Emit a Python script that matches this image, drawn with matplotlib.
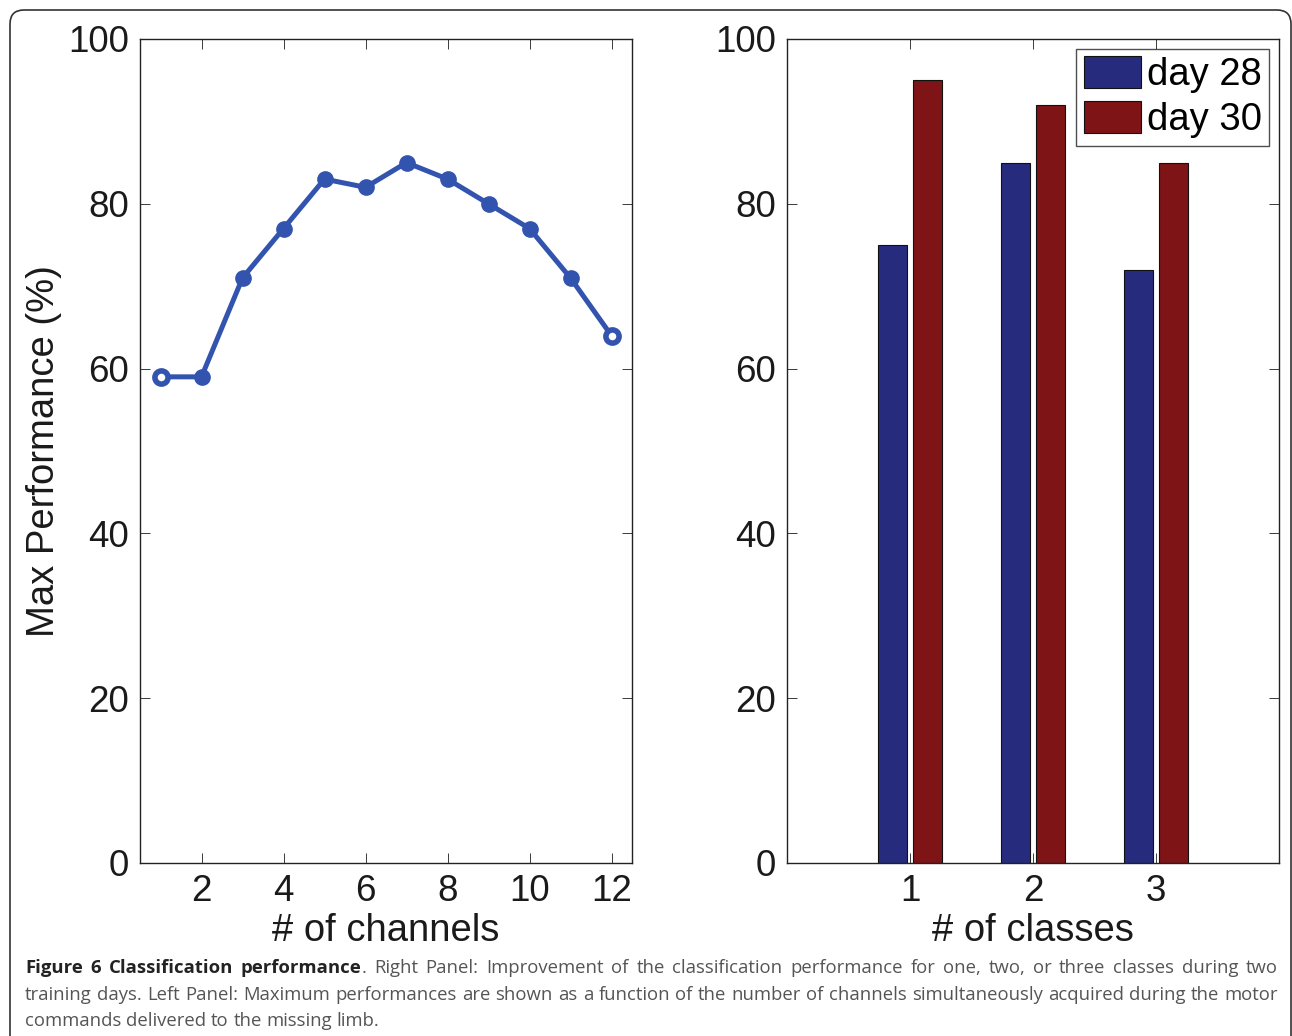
import matplotlib
matplotlib.use("Agg")
import matplotlib.pyplot as plt
from matplotlib.patches import FancyBboxPatch
import numpy as np

# ---- data ----
channels = [1, 2, 3, 4, 5, 6, 7, 8, 9, 10, 11, 12]
max_perf = [59, 59, 71, 77, 83, 82, 85, 83, 80, 77, 71, 64]
classes = [1, 2, 3]
day28 = [75, 85, 72]
day30 = [95, 92, 85]
series_labels = ["day 28", "day 30"]
yticks = [0, 20, 40, 60, 80, 100]
left_xticks = [2, 4, 6, 8, 10, 12]

W, H = 1292, 1036
fig = plt.figure(figsize=(W / 100, H / 100), dpi=100)
plt.rcParams['font.family'] = ['Liberation Sans', 'DejaVu Sans']

line_col = '#3253AE'
blue = '#272B7E'
red = '#7E1416'
FS = 26.5
LFS = 27.5

def px_axes(x0, x1, y0, y1):
    return [x0 / W, 1 - y1 / H, (x1 - x0) / W, (y1 - y0) / H]

def style(ax):
    ax.tick_params(direction='in', length=7, width=0.6, labelsize=FS,
                   top=True, right=True, pad=8, colors='#1a1a1a')
    for s in ax.spines.values():
        s.set_linewidth(1.0)
        s.set_color('#222222')

# frame
frame = FancyBboxPatch((10, -40), 1281, H - 10 + 40,
                       boxstyle="round,pad=0,rounding_size=14",
                       transform=None, fill=False, edgecolor='#333333',
                       linewidth=1.2)
fig.patches.append(frame)

# left panel
ax1 = fig.add_axes(px_axes(140, 632, 39, 863))
ax1.plot(channels, max_perf, color=line_col, lw=3.6, marker='o', ms=11,
         mfc=line_col, mec=line_col, solid_capstyle='round', zorder=3)
ax1.plot([channels[0], channels[-1]], [max_perf[0], max_perf[-1]], ls='none',
         marker='o', ms=9.5, mfc='white', mec=line_col, mew=4, zorder=4)
ax1.set_xlim(0.5, 12.5)
ax1.set_ylim(0, 100)
ax1.set_xticks(left_xticks)
ax1.set_yticks(yticks)
ax1.set_xlabel('# of channels', fontsize=LFS, labelpad=3, color='#1a1a1a')
ax1.set_ylabel('Max Performance (%)', fontsize=LFS, labelpad=4, color='#1a1a1a')
style(ax1)

# right panel
ax2 = fig.add_axes(px_axes(787, 1279, 39, 863))
x = np.array(classes, dtype=float)
bw = 0.235
ax2.bar(x - 0.14, day28, width=bw, color=blue, edgecolor='#111111', lw=0.8,
        label=series_labels[0])
ax2.bar(x + 0.14, day30, width=bw, color=red, edgecolor='#111111', lw=0.8,
        label=series_labels[1])
ax2.set_xlim(0, 4)
ax2.set_ylim(0, 100)
ax2.set_xticks(classes)
ax2.set_yticks(yticks)
ax2.set_xlabel('# of classes', fontsize=LFS, labelpad=3, color='#1a1a1a')
style(ax2)
leg = ax2.legend(loc='upper right', fontsize=LFS, frameon=True, fancybox=False,
                 edgecolor='#222222', borderpad=0.2, handlelength=1.5,
                 handleheight=0.9, handletextpad=0.15, labelspacing=0.2,
                 borderaxespad=0.25)
leg.get_frame().set_linewidth(1.0)

# caption (justified)
fig.canvas.draw()
renderer = fig.canvas.get_renderer()
cap_font = ['Open Sans', 'DejaVu Sans']
cap_fs = 13.3
dark = '#222222'
grey = '#555555'

lines = [
    ([("Figure 6 Classification performance", 'bold', dark),
      (". Right Panel: Improvement of the classification performance for one, two, or three classes during two", 'normal', grey)], True),
    ([("training days. Left Panel: Maximum performances are shown as a function of the number of channels simultaneously acquired during the motor", 'normal', grey)], True),
    ([("commands delivered to the missing limb.", 'normal', grey)], False),
]
ys = [968, 995, 1021]
x_left, x_right = 25, 1278

def make_tokens(segs):
    toks = []
    for txt, wt, col in segs:
        words = txt.split(' ')
        for i, w in enumerate(words):
            if w == '':
                continue
            new_word = not (i == 0 and not txt.startswith(' ') and toks)
            toks.append((w, wt, col, new_word))
    return toks

for (segs, justify), yy in zip(lines, ys):
    toks = make_tokens(segs)
    words = []
    for w, wt, col, nw in toks:
        if nw or not words:
            words.append([(w, wt, col)])
        else:
            words[-1].append((w, wt, col))
    widths = []
    texts = []
    for word in words:
        pieces = []
        wsum = 0
        for w, wt, col in word:
            t = fig.text(0, 0, w, fontsize=cap_fs, family=cap_font, weight=wt,
                         color=col, transform=None, va='center')
            bb = t.get_window_extent(renderer)
            pieces.append((t, bb.width))
            wsum += bb.width
        texts.append(pieces)
        widths.append(wsum)
    space_t = fig.text(0, 0, 'a a', fontsize=cap_fs, family=cap_font, transform=None)
    a_t = fig.text(0, 0, 'aa', fontsize=cap_fs, family=cap_font, transform=None)
    sp = space_t.get_window_extent(renderer).width - a_t.get_window_extent(renderer).width
    space_t.remove(); a_t.remove()
    if justify and len(words) > 1:
        gap = (x_right - x_left - sum(widths)) / (len(words) - 1)
    else:
        gap = sp
    cx = x_left
    for pieces, wsum in zip(texts, widths):
        px = cx
        for t, wdt in pieces:
            t.set_position((px, H - yy))
            px += wdt
        cx += wsum + gap

fig.savefig('out.png', dpi=100)
